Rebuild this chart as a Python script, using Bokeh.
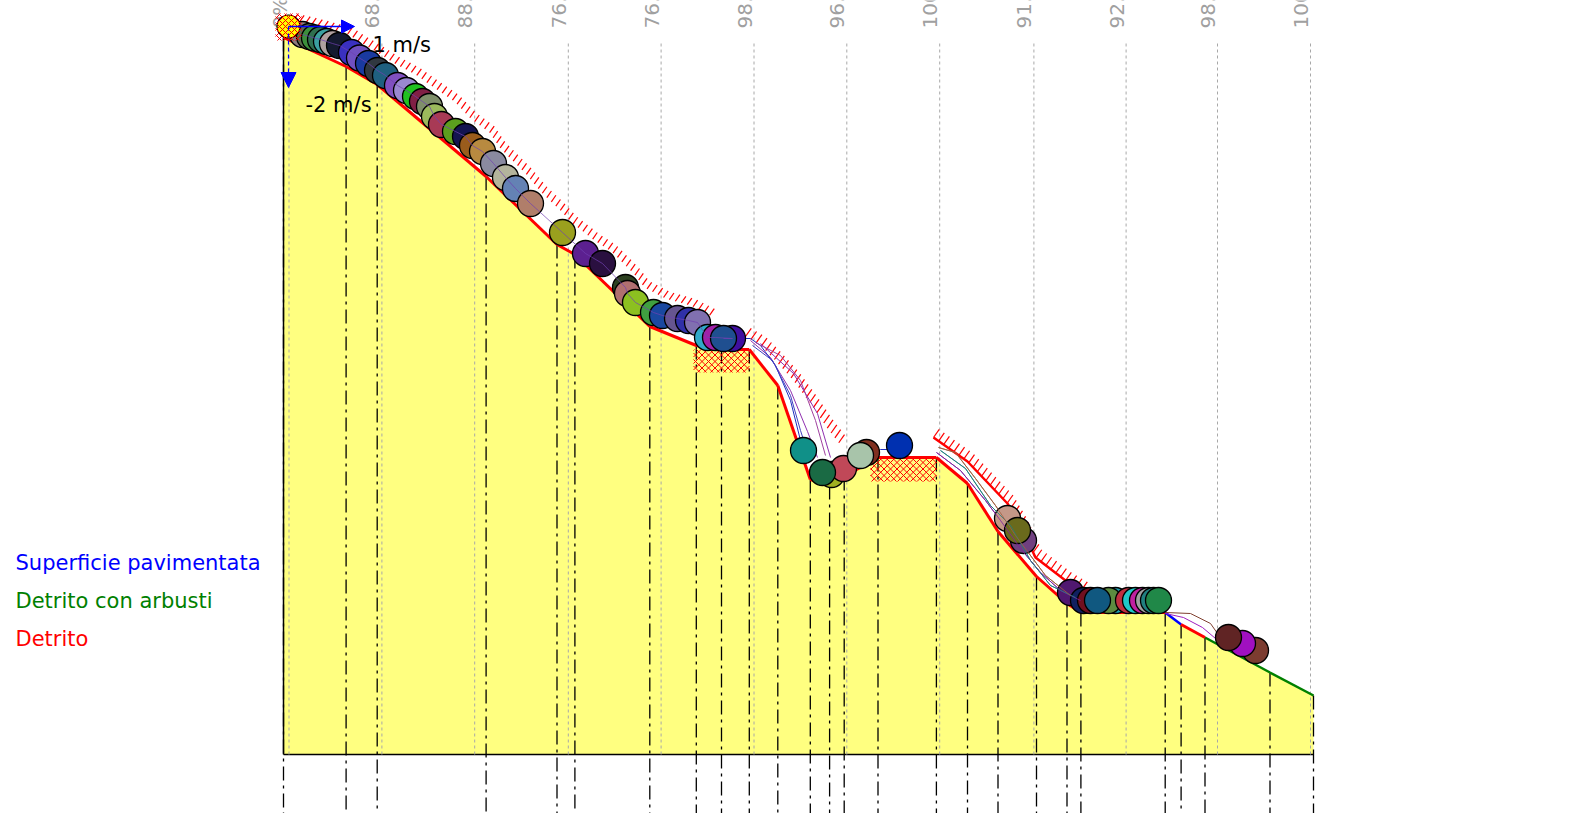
import math
from bokeh.plotting import figure
from bokeh.models import Range1d, Arrow, NormalHead
from bokeh.core.properties import value
from bokeh.embed import file_html
from bokeh.resources import INLINE

# ---------------- data (metres) ----------------
# slope profile vertices
prof_x = [0.0, 6.26, 9.37, 20.26, 27.35, 29.14, 36.63, 41.28, 43.80, 46.58, 49.43, 52.68, 54.61,
          56.07, 59.45, 65.29, 68.40, 71.45, 75.30, 78.35, 79.74, 88.17, 89.76, 92.15, 98.65, 103.0]
prof_y = [71.7, 68.8, 67.0, 57.8, 51.0, 50.0, 42.8, 40.9, 40.5, 40.5, 36.9, 27.5, 26.9,
          27.8, 29.7, 29.7, 27.1, 22.3, 17.8, 15.1, 14.2, 14.2, 13.0, 11.7, 8.2, 5.9]
# material of each segment (between consecutive vertices)
seg_material = ["Detrito"] * 21 + ["Superficie pavimentata", "Detrito",
                                   "Detrito con arbusti", "Detrito con arbusti"]
materials = ["Superficie pavimentata", "Detrito con arbusti", "Detrito"]

# control sections and their labels
grid_x = [0.55, 9.84, 19.12, 28.48, 37.76, 47.05, 56.33, 65.62, 75.04, 84.26, 93.40, 102.7]
grid_labels = ["0%", "68.0%", "88.0%", "76.0%", "76.0%", "98.0%", "96.0%", "100%",
               "91.0%", "92.0%", "98.0%", "100%"]
grid_top = 71.4

# start point and initial velocity
start_x, start_y = 0.5, 72.8
vel_h_label, vel_v_label = "1 m/s", "-2 m/s"

# block positions
ball_x = [1.9, 2.6, 3.1, 3.7, 4.3, 4.9, 5.6, 6.8, 7.6, 8.5, 9.4, 10.2, 11.4, 12.3, 13.2, 13.9,
          14.6, 15.1, 15.8, 17.2, 18.2, 18.9, 19.9, 21.0, 22.2, 23.2, 24.7, 27.9, 30.2, 31.9,
          34.2, 34.4, 35.2, 37.0, 37.9, 39.4, 40.5, 41.4, 42.4, 43.2, 44.9, 44.0,
          52.0, 54.8, 56.0, 58.3, 57.7, 53.9, 61.6,
          72.4, 74.0, 73.4,
          78.7, 80.0, 80.7, 83.2, 82.5, 81.4, 84.5, 85.2, 85.9, 86.5, 87.0, 87.5,
          97.2, 95.9, 94.5]
ball_y = [72.0, 71.8, 71.65, 71.5, 71.3, 71.1, 70.9, 70.2, 69.65, 69.1, 68.4, 67.9, 66.9, 66.4,
          65.8, 65.3, 64.8, 63.8, 63.0, 62.3, 61.8, 60.9, 60.3, 59.1, 57.7, 56.6, 55.1, 52.2,
          50.1, 49.1, 46.7, 46.1, 45.2, 44.2, 43.9, 43.6, 43.4, 43.2, 41.7, 41.7, 41.6, 41.6,
          30.4, 28.0, 28.6, 30.2, 29.9, 28.2, 30.9,
          23.6, 21.4, 22.4,
          16.2, 15.4, 15.4, 15.4, 15.4, 15.4, 15.4, 15.4, 15.4, 15.4, 15.4, 15.4,
          10.4, 11.1, 11.7]
ball_colors = ["#8c7b7e", "#5e6b4e", "#3c8f3c", "#2f7050", "#3aa0a0", "#b0a0a0", "#141a30",
               "#3a30c0", "#7050c0", "#1a3aa0", "#303840", "#1f6080", "#8050c0", "#9a88d0",
               "#20c020", "#802045", "#7f8f6a", "#9cba5c", "#a83a55", "#5c9e1e", "#141450",
               "#9a5c1c", "#b88a40", "#8a8aa0", "#b4b49c", "#6482b4", "#b07e6a", "#9aa01e",
               "#5c2090", "#2a1040", "#2c4020", "#b07070", "#8cc020", "#40a040", "#1a48a0",
               "#665590", "#3030a8", "#8070b0", "#30a8c8", "#a020a8", "#4010a0", "#1f4f90",
               "#109088", "#a0b020", "#c04858", "#803020", "#a8c4aa", "#1a6a44", "#0030b0",
               "#c49888", "#704080", "#6a6a1c",
               "#501870", "#102060", "#701020", "#20a0b0", "#5c8c40", "#105880", "#c03040",
               "#20c8c8", "#c020a0", "#a0a0a0", "#208080", "#208848",
               "#7c3c30", "#a010c0", "#602424"]

# envelopes of bounce heights (hatched)
env1_x = [1.0, 3.2, 6.5, 7.7, 9.4, 11.1, 13.2, 14.9, 17.1, 18.7, 20.6, 21.7, 23.1, 24.3, 25.8,
          27.7, 28.8, 31.1, 32.8, 35.1, 36.1, 38.2, 40.7, 42.7]
env1_y = [73.4, 72.9, 72.0, 71.2, 70.2, 69.1, 68.0, 66.8, 65.3, 63.6, 62.2, 60.6, 59.2, 58.0,
          56.2, 54.4, 53.2, 51.4, 50.3, 48.0, 46.7, 45.6, 44.9, 43.9]
env2_x = [46.2, 47.7, 49.0, 51.0, 52.7, 54.4, 55.9]
env2_y = [41.8, 40.9, 39.6, 37.4, 35.1, 32.6, 30.7]
env3_x = [65.0, 68.4, 72.4, 73.7, 75.2, 78.2, 80.2]
env3_y = [31.7, 29.3, 25.1, 22.9, 19.7, 17.4, 16.2]
# cross-hatched deposit zones: x0, x1, y0, y1
xzones = [(-0.8, 1.8, 71.4, 74.1), (41.0, 46.6, 38.2, 40.5), (58.7, 65.3, 27.3, 29.7)]

# some trajectories
traj = [
    ([65.3, 67.7, 70.2, 71.7, 73.7, 75.7, 77.7, 79.7], [30.2, 28.4, 25.4, 23.4, 20.6, 18.2, 16.4, 15.4], "#8020a0"),
    ([65.7, 68.2, 70.7, 72.7, 74.7, 76.7, 79.2], [30.4, 28.6, 24.9, 22.9, 19.4, 16.9, 15.7], "#208080"),
    ([65.5, 67.2, 69.2, 71.2, 73.2, 76.2, 78.7], [30.7, 30.2, 27.6, 24.9, 21.9, 17.9, 15.9], "#a06040"),
    ([46.7, 48.7, 50.7, 52.4, 53.4], [41.4, 39.7, 36.4, 32.3, 29.7], "#9030b0"),
    ([47.7, 51.0, 53.4, 54.7], [41.1, 38.1, 34.1, 29.7], "#9030b0"),
    ([45.7, 46.7, 47.7, 49.2, 50.7, 51.7], [41.6, 41.6, 40.9, 38.9, 35.4, 31.4], "#2030c0"),
    ([46.9, 48.9, 50.7, 51.7, 52.5], [40.9, 39.4, 35.9, 32.4, 29.9], "#4040c0"),
    ([47.2, 49.7, 51.7, 53.2, 54.2], [41.2, 39.9, 37.4, 33.4, 29.9], "#a040a0"),
    ([59.0, 59.7, 60.4], [29.9, 30.5, 30.5], "#2030c0"),
    ([88.2, 90.7, 92.7, 93.4], [14.2, 14.1, 13.1, 12.1], "#804030"),
    ([88.2, 90.0, 91.9, 93.2], [14.1, 13.7, 12.7, 11.6], "#a020c0"),
]

# ---------------- figure ----------------
p = figure(width=1596, height=813, x_range=Range1d(-28.3, 131.3), y_range=Range1d(-5.9, 75.4),
           toolbar_location=None, output_backend="svg", min_border=0,
           x_axis_type=None, y_axis_type=None)
p.outline_line_color = None
p.background_fill_color = "white"
p.border_fill_color = "white"

mat_color = {"Superficie pavimentata": "#0000ff", "Detrito con arbusti": "#008000", "Detrito": "#ff0000"}
FONT = value("DejaVu Sans")

# ground body
p.patch(prof_x + [prof_x[-1], prof_x[0]], prof_y + [0, 0], fill_color="#ffff80", line_color=None)
p.line([prof_x[0], prof_x[0]], [0, prof_y[0]], line_color="black", line_width=1.5)
p.line([prof_x[0], prof_x[-1]], [0, 0], line_color="black", line_width=1.5)

# control sections
p.segment(x0=grid_x, y0=[0] * len(grid_x), x1=grid_x, y1=[grid_top] * len(grid_x),
          line_color="#a8a8a8", line_width=1, line_dash="3 3")
p.text(x=[g - 0.95 for g in grid_x], y=[72.6] * len(grid_x), text=grid_labels, angle=math.pi / 2,
       text_align="left", text_baseline="alphabetic", text_color="#a0a0a0",
       text_font=FONT, text_font_size="20px")

# vertex verticals
p.segment(x0=prof_x, y0=prof_y, x1=prof_x, y1=[-5.9] * len(prof_x),
          line_color="black", line_width=1.3, line_dash="14 5 3 5")


def xhatch(x0, x1, y0, y1, s):
    a, b, c, d = [], [], [], []
    k = y0 - x1
    while k <= y1 - x0:
        xa, xb = max(x0, y0 - k), min(x1, y1 - k)
        if xb > xa:
            a.append(xa); b.append(xa + k); c.append(xb); d.append(xb + k)
        k += s
    k = x0 + y0
    while k <= x1 + y1:
        xa, xb = max(x0, k - y1), min(x1, k - y0)
        if xb > xa:
            a.append(xa); b.append(k - xa); c.append(xb); d.append(k - xb)
        k += s
    return a, b, c, d


def strokes(px, py, step, length, ang):
    a, b, c, d = [], [], [], []
    carry = 0.0
    for i in range(len(px) - 1):
        dx, dy = px[i + 1] - px[i], py[i + 1] - py[i]
        L = math.hypot(dx, dy)
        t = carry
        while t <= L:
            x, y = px[i] + dx * t / L, py[i] + dy * t / L
            a.append(x); b.append(y)
            c.append(x + length * math.cos(ang)); d.append(y + length * math.sin(ang))
            t += step
        carry = t - L
    return a, b, c, d


for (zx0, zx1, zy0, zy1) in xzones[1:]:
    a, b, c, d = xhatch(zx0, zx1, zy0, zy1, 0.65)
    p.segment(a, b, c, d, line_color="#ff0000", line_width=1)

for ex, ey, ln in [(env1_x, env1_y, 0.8), (env2_x, env2_y, 1.0), (env3_x, env3_y, 1.0)]:
    a, b, c, d = strokes(ex, ey, 0.62, ln, math.radians(55))
    p.segment(a, b, c, d, line_color="#ff0000", line_width=1.2)
p.line(env3_x, env3_y, line_color="#ff0000", line_width=2.5)

# surface segments by material
for m in materials:
    idx = [i for i, s in enumerate(seg_material) if s == m]
    p.segment(x0=[prof_x[i] for i in idx], y0=[prof_y[i] for i in idx],
              x1=[prof_x[i + 1] for i in idx], y1=[prof_y[i + 1] for i in idx],
              line_color=mat_color[m], line_width=3 if m == "Detrito" else 2.5)

for tx, ty, tc in traj:
    p.line(tx, ty, line_color=tc, line_width=1)

# blocks
p.scatter(ball_x, ball_y, size=26, marker="circle", fill_color=ball_colors,
          line_color="black", line_width=1.3)
p.line(ball_x[:42], ball_y[:42], line_color="#7040b0", line_width=1, alpha=0.7)
for tx, ty, tc in traj[:3]:
    p.line(tx, ty, line_color=tc, line_width=1, alpha=0.8)

# start block
p.scatter([start_x], [start_y], size=23, marker="circle", fill_color="#ffff00",
          line_color="black", line_width=1.2)
a, b, c, d = xhatch(*xzones[0], 0.6)
p.segment(a, b, c, d, line_color="#ff0000", line_width=1)

# initial velocity arrows
p.add_layout(Arrow(end=NormalHead(size=13, fill_color="#0000ff", line_color="#0000ff"),
                   x_start=start_x, y_start=start_y, x_end=start_x + 6.6, y_end=start_y,
                   line_color="#0000ff", line_width=1.5))
p.add_layout(Arrow(end=NormalHead(size=15, fill_color="#0000ff", line_color="#0000ff"),
                   x_start=start_x, y_start=start_y, x_end=start_x, y_end=start_y - 6.1,
                   line_color="#0000ff", line_width=1.2, line_dash="4 3"))
p.text(x=[8.9], y=[71.0], text=[vel_h_label], text_align="left", text_baseline="middle",
       text_color="black", text_font=FONT, text_font_size="21px")
p.text(x=[2.2], y=[65.0], text=[vel_v_label], text_align="left", text_baseline="middle",
       text_color="black", text_font=FONT, text_font_size="21px")

# material legend
p.text(x=[-26.8] * 3, y=[19.2, 15.4, 11.6], text=materials, text_align="left",
       text_baseline="middle", text_color=[mat_color[m] for m in materials],
       text_font=FONT, text_font_size="21px")

open("out.html", "w").write(file_html(p, INLINE))
